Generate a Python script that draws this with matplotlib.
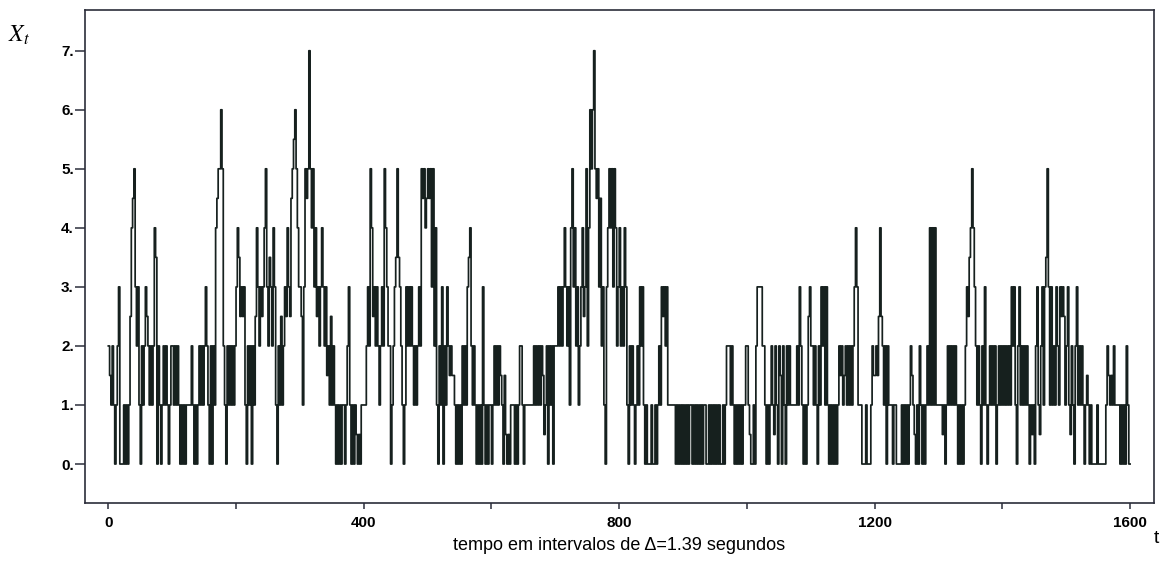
# serie temporal X_t em degraus (intervalos de 1.39 s)

import numpy as np
import matplotlib
matplotlib.use("Agg")
import matplotlib.pyplot as plt
from matplotlib.ticker import MultipleLocator

# valores, um caractere por intervalo de 2 unidades de tempo
# digitos = valor inteiro; letras = meios (a=0.5, b=1.5, c=2.5, d=3.5, e=4.5, f=5.5)
serie_xt = [
    "2b12101230", "0010101c4e", "5323102123", "c212124d02", "1012121012",
    "2121210101", "0111121010", "1212123210", "20214e5565", "2102121212",
    "34dc3c3102", "12021c4323", "c34532d324", "31021c123c", "43ce5f6543",
    "3c135e5754", "534c323432", "3b21c12101", "0101101231", "0101a0a011",
    "1123254c32", "3212325432", "20123d5d32", "1013232321", "212325e54e",
    "5e53524102", "1302132b2b", "b101010212", "13d4212101", "0103101011",
    "0121212b10", "ba0a011101", "0122101111", "1112121212", "ba12021202",
    "2232323432", "3145342312", "34c3524656", "75e53e2310", "3454535423",
    "4232431021", "2101213231", "0100010010", "1213c32311", "1111010101",
    "0101011010", "1010101100", "1010101010", "0101222121", "0101010112",
    "21a0010233", "3322101012", "1a2102b021", "0212111112", "13210101c3",
    "2212102132", "3131010101", "012b21b212", "1212343111", "000100012b",
    "b2bc4c2120", "2111011000", "010101012b", "1a01021010", "1214141411",
    "111a101212", "1212101010", "123cd45432", "1210213101", "2121201212",
    "1212121323", "1023121212", "101a10231a", "2313d53131", "213213c3c1",
    "231a210231", "212101b101", "0000100000", "012b1b1211", "1101010210",
]
passo_t = 2
meios = {"a": 0.5, "b": 1.5, "c": 2.5, "d": 3.5, "e": 4.5, "f": 5.5, "g": 6.5}

xticks_maiores = [0, 400, 800, 1200, 1600]
yticks = [0, 1, 2, 3, 4, 5, 6, 7]

valores = [meios[c] if c in meios else float(c) for c in "".join(serie_xt)]
valores.append(valores[-1])
t = np.arange(len(valores)) * passo_t

cor_linha = "#16201e"
cor_eixo = "#2b2d3a"

fig = plt.figure(figsize=(11.63, 5.61), dpi=100)
ax = fig.add_axes([0.0731, 0.1034, 0.9192, 0.8788])

ax.step(t, valores, where="post", color=cor_linha, linewidth=1.25)

ax.set_xlim(-36.5, 1637.5)
ax.set_ylim(-0.66, 7.69)

ax.set_xticks(xticks_maiores)
ax.set_xticklabels([str(v) for v in xticks_maiores])
ax.xaxis.set_minor_locator(MultipleLocator(200))
ax.set_yticks(yticks)
ax.set_yticklabels([f"{v}." for v in yticks])

fonte_ticks = {"family": "Liberation Sans", "weight": "bold", "size": 11}
for lab in ax.get_xticklabels() + ax.get_yticklabels():
    lab.set_fontproperties(matplotlib.font_manager.FontProperties(**fonte_ticks))

ax.tick_params(axis="y", which="major", direction="out", length=7, width=1.1,
               color=cor_eixo, pad=1)
ax.tick_params(axis="x", which="both", direction="out", length=4.5, width=1.1,
               color=cor_eixo, pad=5)
for s in ax.spines.values():
    s.set_color(cor_eixo)
    s.set_linewidth(1.2)

ax.set_xlabel("tempo em intervalos de \u0394=1.39 segundos", family="Liberation Sans",
              fontsize=13, labelpad=5)
fig.text(0.9945, 0.032, "t", family="Liberation Sans", fontsize=14,
         ha="center", va="baseline")

plt.rcParams["mathtext.fontset"] = "stix"
fig.text(0.007, 0.925, r"$X_t$", fontsize=17, ha="left", va="baseline")

fig.savefig("out.png", dpi=100, facecolor="white")
